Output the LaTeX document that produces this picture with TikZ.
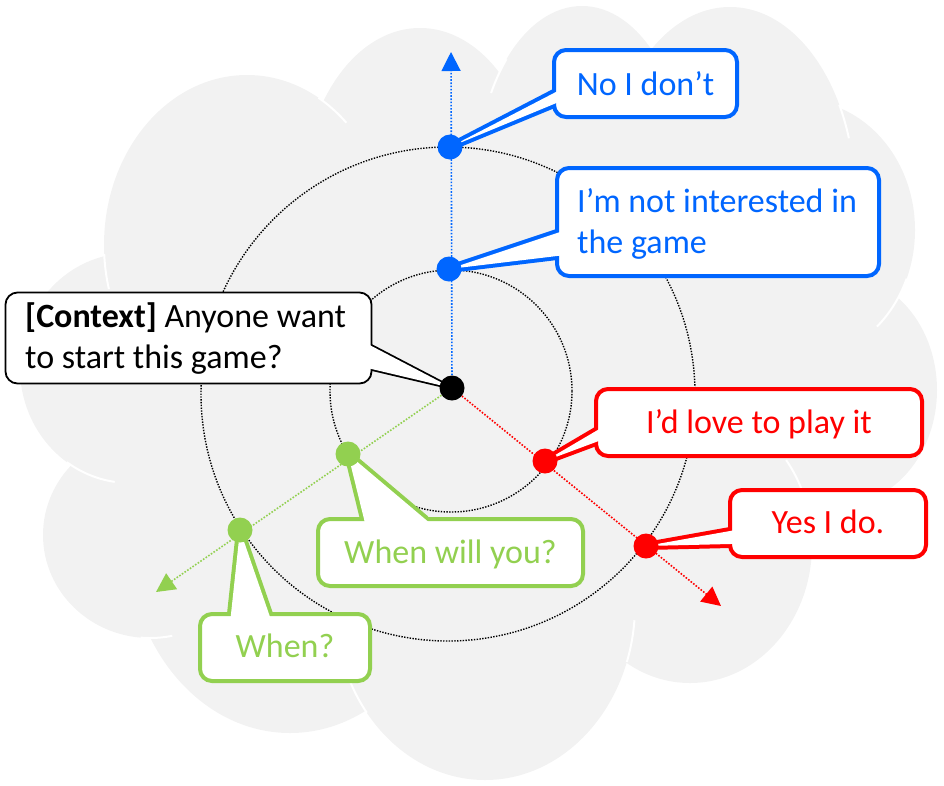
\documentclass[tikz,border=0pt]{standalone}
\usepackage{fontspec}
\setmainfont{Carlito}
\usetikzlibrary{arrows.meta,calc}
\pgfdeclarelayer{cloud}
\pgfdeclarelayer{grid}
\pgfdeclarelayer{ptr}
\pgfdeclarelayer{ptrfill}
\pgfdeclarelayer{front}
\pgfsetlayers{cloud,grid,ptr,main,ptrfill,front}
\definecolor{cblue}{RGB}{0,102,255}
\definecolor{cred}{RGB}{255,0,0}
\definecolor{cgreen}{RGB}{146,208,80}
\definecolor{cgray}{RGB}{242,242,242}
% callout pointer: #1 colour, #2 stroke width, #3 tip, #4 base point 1, #5 base point 2
\newcommand{\mypointer}[5]{%
  \begin{pgfonlayer}{ptr}
    \draw[line join=round, draw=#1, line width=#2] (#3) -- (#4) -- (#5) -- cycle;
  \end{pgfonlayer}
  \begin{pgfonlayer}{ptrfill}
    \fill[white] (#3) -- ($(#4)!-6pt!(#3)$) -- ($(#5)!-6pt!(#3)$) -- cycle;
  \end{pgfonlayer}}
\begin{document}
\begin{tikzpicture}[x=1pt,y=-1pt,
  box/.style={draw, fill=white, rounded corners=12pt, line width=4pt, outer sep=0pt, inner sep=0pt, shape=rectangle},
  txt/.style={font=\fontsize{34pt}{41pt}\selectfont, inner sep=0pt},
  dot/.style={circle, inner sep=0pt, minimum size=25pt},
  ring/.style={draw=black, line width=1.4pt, dash pattern=on 1.4pt off 1.4pt},
  axis/.style={line width=1.6pt, dash pattern=on 1.6pt off 1.6pt, -{Triangle[length=19pt,width=19pt]}},
  seam/.style={draw=white, line width=2pt}
]
\useasboundingbox (0,0) rectangle (944,785);

% ---------- cloud ----------
\begin{pgfonlayer}{cloud}
\fill[cgray] (247,245) ellipse[x radius=143pt, y radius=170pt];
\fill[cgray] (420,200) ellipse[x radius=118pt, y radius=172pt];
\fill[cgray] (582,180) ellipse[x radius=105pt, y radius=174pt];
\fill[cgray] (730,197) ellipse[x radius=125pt, y radius=190pt];
\fill[cgray] (800,230) ellipse[x radius=115pt, y radius=130pt];
\fill[cgray] (840,390) ellipse[x radius=97pt, y radius=115pt];
\fill[cgray] (690,545) ellipse[x radius=122pt, y radius=138pt];
\fill[cgray] (485,605) ellipse[x radius=150pt, y radius=175pt];
\fill[cgray] (290,540) ellipse[x radius=162pt, y radius=193pt];
\fill[cgray] (150,535) ellipse[x radius=107pt, y radius=103pt];
\fill[cgray] (130,368) ellipse[x radius=110pt, y radius=115pt];
\fill[cgray] (470,400) ellipse[x radius=300pt, y radius=220pt];
\draw[seam] plot[domain=46:60,samples=12] ({247+143*cos(\x)},{245-170*sin(\x)});
\draw[seam] plot[domain=136:150,samples=12] ({582+105*cos(\x)},{180-174*sin(\x)});
\draw[seam] plot[domain=18:29,samples=12] ({730+125*cos(\x)},{197-190*sin(\x)});
\draw[seam] plot[domain=-48:-22,samples=12] ({800+115*cos(\x)},{230-130*sin(\x)});
\draw[seam] plot[domain=22:38,samples=12] ({690+122*cos(\x)},{545-138*sin(\x)});
\draw[seam] plot[domain=-19:-5,samples=12] ({485+150*cos(\x)},{605-175*sin(\x)});
\draw[seam] plot[domain=205:218,samples=12] ({485+150*cos(\x)},{605-175*sin(\x)});
\draw[seam] plot[domain=265:282,samples=12] ({150+107*cos(\x)},{535-103*sin(\x)});
\draw[seam] plot[domain=235:262,samples=12] ({130+110*cos(\x)},{368-115*sin(\x)});
\draw[seam] plot[domain=183:195,samples=12] ({247+143*cos(\x)},{245-170*sin(\x)});
\end{pgfonlayer}

% ---------- dots ----------
\begin{pgfonlayer}{front}
\node[dot, fill=black]  (c0) at (452,388) {};
\node[dot, fill=cblue]  (u1) at (450,147) {};
\node[dot, fill=cblue]  (u2) at (449,269) {};
\node[dot, fill=cred]   (r1) at (545,461) {};
\node[dot, fill=cred]   (r2) at (646,546) {};
\node[dot, fill=cgreen] (g1) at (348,454) {};
\node[dot, fill=cgreen] (g2) at (240,530) {};
\end{pgfonlayer}

% ---------- rings and axes ----------
\coordinate (tipU) at (451,52);
\coordinate (tipR) at (721,606);
\coordinate (tipG) at (156,592);
\begin{pgfonlayer}{grid}
\draw[ring] (451,391) circle[radius=121pt];
\draw[ring] (448,394) circle[radius=247pt];
\draw[axis, cblue] (c0.center) -- (tipU);
\draw[axis, cred] (c0.center) -- (tipR);
\draw[axis, cgreen] (c0.center) -- (tipG);
\end{pgfonlayer}

% ---------- boxes ----------
\node[box, draw=cblue, minimum width=183pt, minimum height=67pt] (bNo) at (645.5,83.5) {};
\node[box, draw=cblue, minimum width=322pt, minimum height=108pt] (bNot) at (718,222) {};
\node[box, draw=black, line width=1.8pt, minimum width=366pt, minimum height=91pt] (bCtx) at (188.5,338) {};
\node[box, draw=cred, minimum width=326pt, minimum height=67pt] (bLove) at (759,422.5) {};
\node[box, draw=cred, minimum width=196pt, minimum height=67pt] (bYes) at (828,523.5) {};
\node[box, draw=cgreen, minimum width=265pt, minimum height=67pt] (bWill) at (450.5,552.5) {};
\node[box, draw=cgreen, minimum width=170pt, minimum height=67pt] (bWhen) at (285,647.5) {};

% ---------- texts ----------
\node[txt, text=cblue, anchor=base] (tNo) at (645.5,95) {No I don’t};
\node[txt, text=cblue, anchor=base west, align=left] (tNot) at (577,253) {I’m not interested in\\the game};
\node[txt, text=black, anchor=base west, align=left] (tCtx) at (25,368) {\textbf{[Context]} Anyone want\\to start this game?};
\node[txt, text=cred, anchor=base] (tLove) at (759,433) {I’d love to play it};
\node[txt, text=cred, anchor=base] (tYes) at (828,533) {Yes I do.};
\node[txt, text=cgreen, anchor=base] (tWill) at (450.5,563) {When will you?};
\node[txt, text=cgreen, anchor=base] (tWhen) at (285,657) {When?};

% ---------- callout pointers ----------
\mypointer{cblue}{8pt}{u1.center}{[yshift=-9.5pt]bNo.west}{[yshift=-20.5pt]bNo.west}
\mypointer{cblue}{8pt}{u2.center}{[yshift=-11pt]bNot.west}{[yshift=-34pt]bNot.west}
\mypointer{black}{3.6pt}{c0.center}{[yshift=-8pt]bCtx.east}{[yshift=-31pt]bCtx.east}
\mypointer{cred}{8pt}{r1.center}{[yshift=-8.5pt]bLove.west}{[yshift=-19.5pt]bLove.west}
\mypointer{cred}{8pt}{r2.center}{[yshift=-7.5pt]bYes.west}{[yshift=-20.5pt]bYes.west}
\mypointer{cgreen}{8pt}{g1.center}{[xshift=-86.5pt]bWill.north}{[xshift=-25.5pt]bWill.north}
\mypointer{cgreen}{8pt}{g2.center}{[xshift=-54pt]bWhen.north}{[xshift=-16pt]bWhen.north}
\end{tikzpicture}
\end{document}
